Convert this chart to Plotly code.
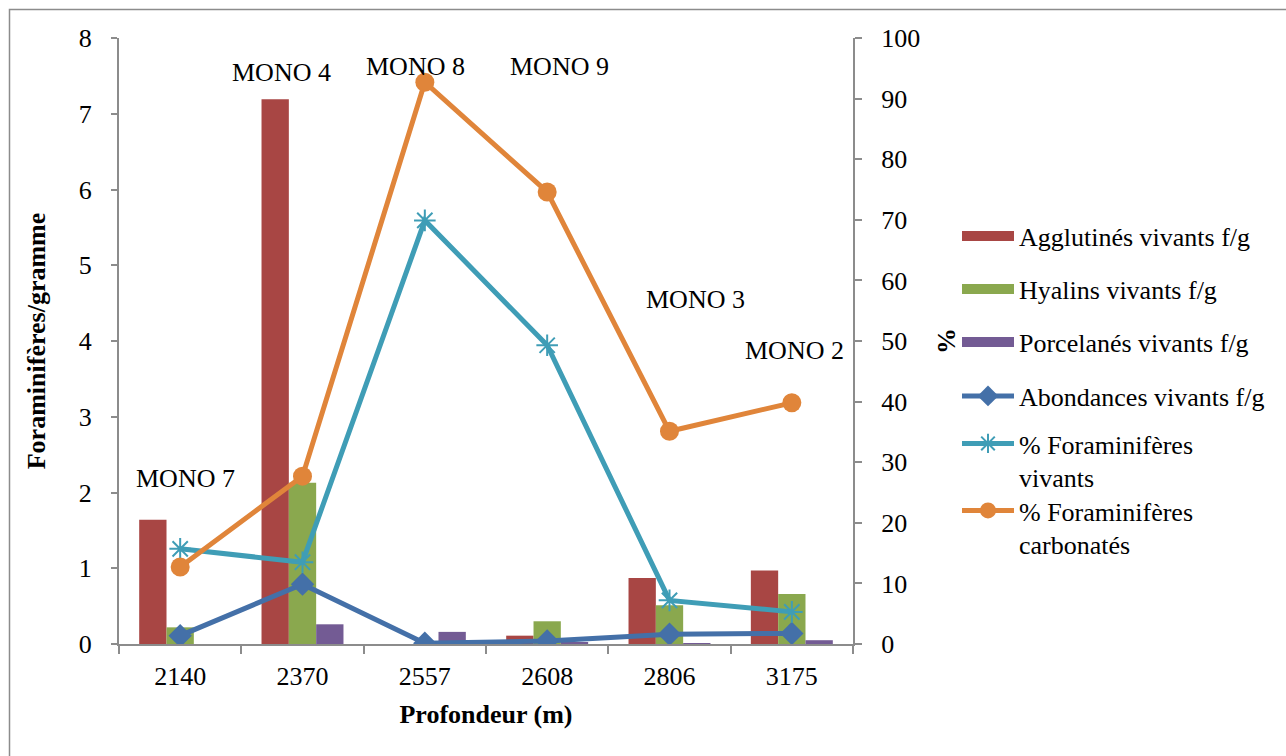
import plotly.graph_objects as go

depths = ["2140", "2370", "2557", "2608", "2806", "3175"]
agglutines = [1.64, 7.19, 0.0, 0.11, 0.87, 0.97]
hyalins = [0.22, 2.13, 0.0, 0.30, 0.51, 0.66]
porcelanes = [0.0, 0.26, 0.16, 0.02, 0.01, 0.05]
abondances = [0.11, 0.79, 0.01, 0.04, 0.13, 0.14]
pct_vivants = [15.7, 13.5, 69.9, 49.3, 7.2, 5.3]
pct_carbonates = [12.7, 27.7, 92.7, 74.6, 35.1, 39.8]

mono_labels = ["MONO 7", "MONO 4", "MONO 8", "MONO 9", "MONO 3", "MONO 2"]
mono_y = [2.18, 7.54, 7.62, 7.62, 4.55, 3.88]
mono_xshift = [5, -21, -9, 12, 26, 3]

C_RED = "#A84644"
C_GREEN = "#8AA84E"
C_PURPLE = "#735B94"
C_BLUE = "#4470A8"
C_AQUA = "#3F9DB6"
C_ORANGE = "#E0853A"
AXC = "#8c8c8c"
FONT = "Liberation Serif"
FS = 26

W, H = 1286, 756
L, R, T, B = 119, 433, 38, 112
PW, PH = W - L - R, H - T - B


def px_x(px):
    return (px - L) / PW


def px_y(py):
    return (H - B - py) / PH


fig = go.Figure()

bar_specs = [("Agglutinés vivants f/g", agglutines, C_RED, "legend"),
             ("Hyalins vivants f/g", hyalins, C_GREEN, "legend2"),
             ("Porcelanés vivants f/g", porcelanes, C_PURPLE, "legend3")]
for name, vals, col, lg in bar_specs:
    fig.add_trace(go.Bar(x=depths, y=vals, name=name, marker=dict(color=col, line=dict(width=0)),
                         showlegend=False, yaxis="y"))
    # legend entry drawn as wide swatch
    fig.add_trace(go.Scatter(x=depths, y=[None] * len(depths), mode="lines", name=name,
                             line=dict(color=col, width=13), legend=lg, showlegend=True,
                             hoverinfo="skip"))

fig.add_trace(go.Scatter(x=depths, y=abondances, name="Abondances vivants f/g", mode="lines+markers",
                         line=dict(color=C_BLUE, width=5),
                         marker=dict(symbol="diamond", size=18, color=C_BLUE),
                         yaxis="y", legend="legend4"))
fig.add_trace(go.Scatter(x=depths, y=pct_vivants, name="% Foraminifères<br>vivants", mode="lines+markers",
                         line=dict(color=C_AQUA, width=5),
                         marker=dict(symbol="asterisk-open", size=18, color=C_AQUA,
                                     line=dict(color=C_AQUA, width=2)),
                         yaxis="y2", legend="legend5"))
fig.add_trace(go.Scatter(x=depths, y=pct_carbonates, name="% Foraminifères<br>carbonatés", mode="lines+markers",
                         line=dict(color=C_ORANGE, width=5),
                         marker=dict(symbol="circle", size=19, color=C_ORANGE),
                         yaxis="y2", legend="legend6"))

for lab, xv, yv, xs in zip(mono_labels, depths, mono_y, mono_xshift):
    fig.add_annotation(x=depths.index(xv), y=yv, xref="x", yref="y", text=lab, showarrow=False,
                       xshift=xs, font=dict(family=FONT, size=FS, color="black"))

legend_common = dict(xref="paper", yref="paper", xanchor="left", yanchor="middle",
                     font=dict(family=FONT, size=FS, color="black"), bgcolor="rgba(0,0,0,0)",
                     itemwidth=52, valign="top", borderwidth=0)
leg_y = [236, 289, 342, 396, 447, 514]
legends = {}
for i, key in enumerate(["legend", "legend2", "legend3", "legend4", "legend5", "legend6"]):
    d = dict(legend_common)
    d["x"] = px_x(957)
    if i >= 4:
        d["yanchor"] = "top"
        d["y"] = px_y(leg_y[i] - 27)
    else:
        d["y"] = px_y(leg_y[i])
    legends[key] = d

fig.update_layout(
    width=W, height=H,
    margin=dict(l=L, r=R, t=T, b=B, autoexpand=False),
    paper_bgcolor="white", plot_bgcolor="white",
    barmode="group", bargap=0.33, bargroupgap=0,
    font=dict(family=FONT, size=FS, color="black"),
    xaxis=dict(type="category", categoryorder="array", categoryarray=depths,
               range=[-0.5, len(depths) - 0.5], autorange=False,
               showline=True, linecolor=AXC, linewidth=2, ticks="outside",
               tickson="boundaries", ticklen=8, tickcolor=AXC, tickwidth=2, showgrid=False,
               ticklabelstandoff=8, tickangle=0,
               title=dict(text="<b>Profondeur (m)</b>", standoff=15, font=dict(family=FONT, size=FS))),
    yaxis=dict(range=[0, 8], dtick=1, showline=True, linecolor=AXC, linewidth=2, ticks="outside",
               ticklen=6, tickcolor=AXC, tickwidth=2, showgrid=False, zeroline=False,
               ticklabelstandoff=14,
               title=dict(text="<b>Foraminifères/gramme</b>", standoff=26, font=dict(family=FONT, size=FS))),
    yaxis2=dict(range=[0, 100], dtick=10, overlaying="y", side="right", showline=True, linecolor=AXC,
                linewidth=2, ticks="outside", ticklen=7, tickcolor=AXC, tickwidth=2, showgrid=False,
                zeroline=False, ticklabelstandoff=14,
                title=dict(text="<b>%</b>", standoff=18, font=dict(family=FONT, size=FS))),
    shapes=[dict(type="rect", xref="paper", yref="paper", x0=px_x(9.5), y0=px_y(800),
                 x1=px_x(1400), y1=px_y(9.5), line=dict(color=AXC, width=1.5), layer="below")],
    **legends,
)

fig.write_html("out.html")
